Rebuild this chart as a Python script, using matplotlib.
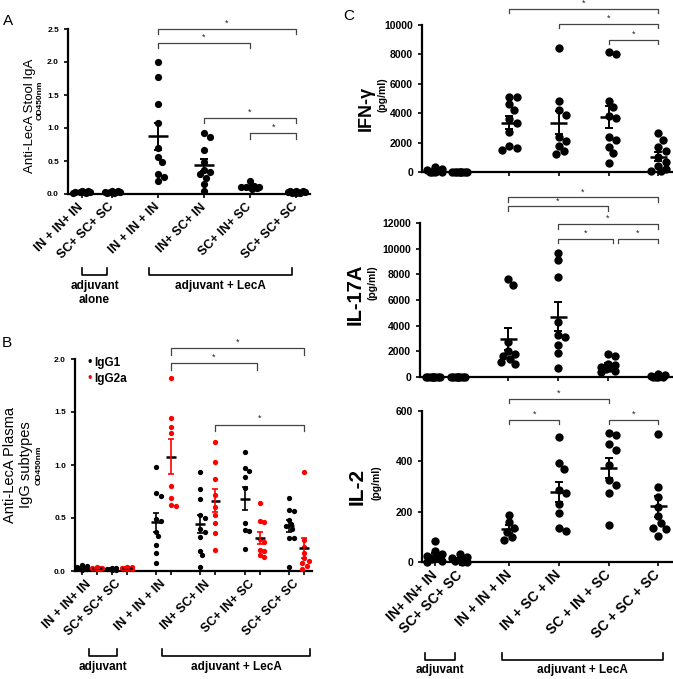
import numpy as np
import matplotlib
matplotlib.use("Agg")
import matplotlib.pyplot as plt
from matplotlib.lines import Line2D

plt.rcParams['font.family'] = ['Liberation Sans', 'DejaVu Sans']

W, H = 673, 679

# ---- data -------------------------------------------------------------
labels_ab = ["IN + IN+ IN", "SC+ SC+ SC", "IN + IN + IN",
             "IN+ SC+ IN", "SC+ IN+ SC", "SC+ SC+ SC"]
labels_c = ["IN+ IN+ IN", "SC+ SC+ SC", "IN + IN + IN",
            "IN + SC + IN", "SC + IN + SC", "SC + SC + SC"]

# A: anti-LecA stool IgA (OD450nm)
iga_g1 = [0.03, 0.02, 0.04, 0.03, 0.02, 0.03, 0.04, 0.03]
iga_g2 = [0.03, 0.04, 0.02, 0.03, 0.03, 0.04, 0.02, 0.03]
iga_g3 = [2.0, 1.77, 1.37, 1.07, 0.70, 0.56, 0.49, 0.31, 0.26, 0.20]
iga_g4 = [0.92, 0.86, 0.67, 0.49, 0.37, 0.33, 0.30, 0.25, 0.15, 0.05]
iga_g5 = [0.19, 0.12, 0.11, 0.10, 0.10, 0.09, 0.08, 0.11]
iga_g6 = [0.05, 0.04, 0.03, 0.03, 0.02, 0.04, 0.02, 0.03, 0.01, 0.03]

# B: anti-LecA plasma IgG1 / IgG2a (OD450nm)
igg1_g1 = [0.06, 0.04, 0.03, 0.02, 0.02, 0.01, 0.03, 0.05]
igg1_g2 = [0.02, 0.03, 0.01, 0.02, 0.03, 0.02, 0.01]
igg1_g3 = [0.98, 0.74, 0.71, 0.49, 0.47, 0.37, 0.33, 0.25, 0.17, 0.08]
igg1_g4 = [0.93, 0.77, 0.68, 0.53, 0.50, 0.40, 0.37, 0.32, 0.19, 0.15, 0.04]
igg1_g5 = [1.12, 0.97, 0.94, 0.89, 0.78, 0.45, 0.39, 0.38, 0.21]
igg1_g6 = [0.69, 0.58, 0.57, 0.48, 0.44, 0.42, 0.40, 0.31, 0.31, 0.04]
igg2a_g1 = [0.03, 0.02, 0.03, 0.04, 0.02, 0.03, 0.03]
igg2a_g2 = [0.03, 0.04, 0.02, 0.03, 0.03, 0.02, 0.04]
igg2a_g3 = [1.82, 1.44, 1.36, 1.30, 0.80, 0.69, 0.62, 0.61]
igg2a_g4 = [1.22, 1.03, 0.87, 0.72, 0.60, 0.53, 0.45, 0.36, 0.20]
igg2a_g5 = [0.64, 0.47, 0.46, 0.30, 0.27, 0.20, 0.19, 0.15, 0.13]
igg2a_g6 = [0.93, 0.29, 0.23, 0.17, 0.12, 0.09, 0.08, 0.05, 0.02]

# C: cytokines (pg/ml)
ifn_g1 = [350, 200, 120, 60, 30, 0, 0, 10]
ifn_g2 = [0, 0, 0, 0, 0, 0, 0, 0]
ifn_g3 = [5100, 5100, 4600, 4200, 3600, 3300, 2700, 1800, 1600, 1500]
ifn_g4 = [8450, 4850, 4200, 3900, 2400, 2100, 1800, 1400, 1200]
ifn_g5 = [8150, 8000, 4850, 4400, 3800, 3700, 2400, 2200, 1700, 1300, 600]
ifn_g6 = [2650, 2200, 1700, 1400, 1000, 700, 400, 200, 100, 50]

il17_g1 = [0, 0, 0, 0, 0, 0, 0, 0]
il17_g2 = [0, 0, 0, 0, 0, 0, 0, 0]
il17_g3 = [7650, 7200, 2700, 2000, 1800, 1600, 1400, 1200, 1000]
il17_g4 = [9700, 9100, 7800, 4300, 3300, 3100, 2500, 1900, 700]
il17_g5 = [1800, 1600, 1000, 900, 800, 700, 600, 500, 400]
il17_g6 = [200, 120, 80, 50, 30, 0, 0, 0]

il2_g1 = [82, 42, 30, 25, 20, 12, 5, 0]
il2_g2 = [33, 20, 15, 10, 6, 3, 0, 0]
il2_g3 = [187, 158, 135, 120, 98, 88]
il2_g4 = [495, 395, 370, 285, 275, 230, 195, 137, 124]
il2_g5 = [512, 505, 467, 447, 385, 326, 306, 273, 148]
il2_g6 = [507, 297, 257, 220, 181, 154, 137, 130, 102]


# ---- helpers ----------------------------------------------------------
fig = plt.figure(figsize=(W / 100, H / 100), dpi=100)


def add_ax(l, t, r, b):
    return fig.add_axes([l / W, 1 - b / H, (r - l) / W, (b - t) / H])


def px(x, y):
    return x / W, 1 - y / H


def fig_line(xs, ys, lw=1.2, color='k'):
    fig.add_artist(Line2D([x / W for x in xs], [1 - y / H for y in ys],
                          transform=fig.transFigure, color=color, lw=lw))


def group_bracket(x1, x2, y, text, ty, h=7):
    fig_line([x1, x1, x2, x2], [y - h, y, y, y - h])
    fig.text(*px((x1 + x2) / 2, ty), text, ha='center', va='top',
             fontsize=8.5, fontweight='bold')


def swarm_x(ax, x0, vals, d, wmax):
    # small beeswarm in pixel space, capped in width so dense groups overlap
    vals = np.asarray(vals, dtype=float)
    pts = ax.transData.transform(np.column_stack([np.full(len(vals), x0), vals]))
    order = np.argsort(-vals)
    placed = []
    xs = np.zeros(len(vals))
    step = d * 0.35
    n = int(wmax / step)
    cands = [0.0] + [s * k * step for k in range(1, n + 1) for s in (1, -1)]
    for i in order:
        cx, cy = pts[i]
        best, best_d = cx, -1
        for c in cands:
            dist = min([np.hypot(cx + c - qx, cy - qy) for qx, qy in placed] + [1e9])
            if dist >= d:
                best = cx + c
                break
            if dist > best_d:
                best, best_d = cx + c, dist
        placed.append((best, cy))
        xs[i] = best
    back = ax.transData.inverted().transform(np.column_stack([xs, pts[:, 1]]))
    return back[:, 0]


def dots(ax, x0, vals, color, ms, half, cap, wmax, elw=1.4):
    xs = swarm_x(ax, x0, vals, ms * 100 / 72 * 0.85, wmax)
    ax.plot(xs, vals, 'o', color=color, ms=ms, mew=0, clip_on=False, zorder=3)
    m = np.mean(vals)
    se = np.std(vals, ddof=1) / np.sqrt(len(vals))
    ax.plot([x0 - half, x0 + half], [m, m], color='k', lw=1.8, zorder=4,
            clip_on=False, solid_capstyle='butt')
    ax.errorbar([x0], [m], yerr=[se], color=color, capsize=cap, elinewidth=elw,
                capthick=elw, fmt='none', zorder=4, clip_on=False)


def sig(ax, x1, x2, y, h, fs=6.5):
    ax.plot([x1, x1, x2, x2], [y - h, y, y, y - h], color='#444', lw=0.9,
            clip_on=False)
    ax.text((x1 + x2) / 2, y + h * 0.25, '*', ha='center', va='bottom',
            fontsize=fs, color='#222', clip_on=False)


def style(ax, tick_fs):
    for s in ('top', 'right'):
        ax.spines[s].set_visible(False)
    for s in ('left', 'bottom'):
        ax.spines[s].set_linewidth(1.6)
    ax.tick_params(axis='both', which='major', length=3, width=1.2,
                   labelsize=tick_fs)
    for t in ax.get_yticklabels():
        t.set_fontweight('bold')


def xlabels(ax, pos, labels, fs, pad):
    ax.xaxis.remove_overlapping_locs = False
    ax.set_xticks(pos, labels, minor=True)
    ax.tick_params(axis='x', which='minor', length=0, pad=pad, labelsize=fs)
    for t in ax.get_xticklabels(minor=True):
        t.set_rotation(45)
        t.set_ha('right')
        t.set_va('center')
        t.set_rotation_mode('anchor')
        t.set_fontweight('bold')


# ---- panel A ----------------------------------------------------------
pos_a = [1.35, 2.0, 3, 4, 5, 6]
axA = add_ax(68, 29, 310, 194)
axA.set_xlim(1.05, 6.3)
axA.set_ylim(0, 2.5)
axA.set_yticks([0, 0.5, 1.0, 1.5, 2.0, 2.5])
axA.set_yticklabels(['0.0', '0.5', '1.0', '1.5', '2.0', '2.5'])
axA.set_xticks(pos_a, [''] * 6)
style(axA, 6)
xlabels(axA, pos_a, labels_ab, 9, 8)
for x0, v in zip(pos_a, [iga_g1, iga_g2, iga_g3, iga_g4, iga_g5, iga_g6]):
    dots(axA, x0, v, 'k', 5.2, 0.22, 3, 9)
sig(axA, 3, 6, 2.5, 0.08)
sig(axA, 3, 5, 2.29, 0.08)
sig(axA, 4, 6, 1.15, 0.08)
sig(axA, 5, 6, 0.92, 0.08)
fig.text(*px(30, 116), 'Anti-LecA Stool IgA', rotation=90, ha='center',
         va='center', fontsize=9.5)
fig.text(*px(40, 100), 'OD450nm', rotation=90, ha='center', va='center',
         fontsize=6, fontweight='bold')
group_bracket(82, 107, 275, 'adjuvant\nalone', 280)
group_bracket(149, 292, 275, 'adjuvant + LecA', 280)

# ---- panel B ----------------------------------------------------------
pos_b = [1.33, 2.0, 3, 4, 5, 6]
off = 0.17
axB = add_ax(75, 359, 312, 571)
axB.set_xlim(1.0, 6.35)
axB.set_ylim(0, 2.0)
axB.set_yticks([0, 0.5, 1.0, 1.5, 2.0])
axB.set_yticklabels(['0.0', '0.5', '1.0', '1.5', '2.0'])
sub = [p + s for p in pos_b for s in (-off, off)]
axB.set_xticks(sub, [''] * len(sub))
style(axB, 6)
xlabels(axB, pos_b, labels_ab, 9, 8)
igg1 = [igg1_g1, igg1_g2, igg1_g3, igg1_g4, igg1_g5, igg1_g6]
igg2a = [igg2a_g1, igg2a_g2, igg2a_g3, igg2a_g4, igg2a_g5, igg2a_g6]
for x0, v1, v2 in zip(pos_b, igg1, igg2a):
    dots(axB, x0 - off, v1, 'k', 3.8, 0.11, 2.5, 5, elw=1.2)
    dots(axB, x0 + off, v2, '#ff0000', 3.8, 0.11, 2.5, 5, elw=1.2)
sig(axB, 3 + off, 6 + off, 2.10, 0.06)
sig(axB, 3 + off, 5.1, 1.96, 0.06)
sig(axB, 4 + off, 6 + off, 1.38, 0.06)
fig.text(*px(90, 363), '•', color='k', ha='center', va='center', fontsize=9)
fig.text(*px(90, 379), '•', color='#ff0000', ha='center', va='center', fontsize=9)
fig.text(*px(94, 363), 'IgG1', ha='left', va='center', fontsize=8.5,
         fontweight='bold')
fig.text(*px(94, 379), 'IgG2a', ha='left', va='center', fontsize=8.5,
         fontweight='bold')
fig.text(*px(10, 465), 'Anti-LecA Plasma', rotation=90, ha='center',
         va='center', fontsize=10.5)
fig.text(*px(26, 465), 'IgG subtypes', rotation=90, ha='center',
         va='center', fontsize=10.5)
fig.text(*px(39, 465), 'OD450nm', rotation=90, ha='center', va='center',
         fontsize=6, fontweight='bold')
group_bracket(89, 117, 656, 'adjuvant', 661)
group_bracket(162, 310, 656, 'adjuvant + LecA', 661)

# ---- panel C ----------------------------------------------------------
pos_c = [1.5, 2.0, 3, 4, 5, 6]


def cyto_axes(l, t, r, b, top, step, groups, name, nx, ny, ux, uy, nfs):
    ax = add_ax(l, t, r, b)
    ax.set_xlim(1.24, 6.28)
    ax.set_ylim(0, top)
    ax.set_yticks(np.arange(0, top + 1, step))
    ax.set_xticks(pos_c, [''] * 6)
    style(ax, 7.5)
    for x0, v in zip(pos_c, groups):
        dots(ax, x0, v, 'k', 6, 0.17, 3, 9)
    fig.text(*px(nx, ny), name, rotation=90, ha='center', va='center',
             fontsize=nfs, fontweight='bold')
    fig.text(*px(ux, uy), '(pg/ml)', rotation=90, ha='center', va='center',
             fontsize=7.5, fontweight='bold')
    return ax


axC1 = cyto_axes(422, 25, 672, 172, 10000, 2000,
                 [ifn_g1, ifn_g2, ifn_g3, ifn_g4, ifn_g5, ifn_g6],
                 'IFN-γ', 366, 108, 382, 95, 13)
sig(axC1, 3, 6, 11100, 280)
sig(axC1, 4, 6, 10070, 280)
sig(axC1, 5, 6, 8980, 280)

axC2 = cyto_axes(420, 223, 672, 377, 12000, 2000,
                 [il17_g1, il17_g2, il17_g3, il17_g4, il17_g5, il17_g6],
                 'IL-17A', 355, 294, 372, 283, 14.5)
sig(axC2, 3, 6, 14000, 330)
sig(axC2, 3, 5, 13300, 330)
sig(axC2, 4, 6, 11900, 330)
sig(axC2, 4, 5.1, 10750, 330)
sig(axC2, 5.2, 6, 10750, 330)

axC3 = cyto_axes(422, 411, 672, 562, 600, 200,
                 [il2_g1, il2_g2, il2_g3, il2_g4, il2_g5, il2_g6],
                 'IL-2', 357, 486, 376, 483, 15)
xlabels(axC3, pos_c, labels_c, 10, 8)
sig(axC3, 3, 5, 648, 16)
sig(axC3, 3, 4, 564, 16)
sig(axC3, 5, 6, 564, 16)
group_bracket(425, 455, 660, 'adjuvant', 664)
group_bracket(502, 663, 660, 'adjuvant + LecA', 664)

# panel letters
fig.text(*px(8, 21), 'A', ha='center', va='center', fontsize=11)
fig.text(*px(7, 343), 'B', ha='center', va='center', fontsize=11)
fig.text(*px(349, 16), 'C', ha='center', va='center', fontsize=11)

fig.savefig('out.png', dpi=100)
